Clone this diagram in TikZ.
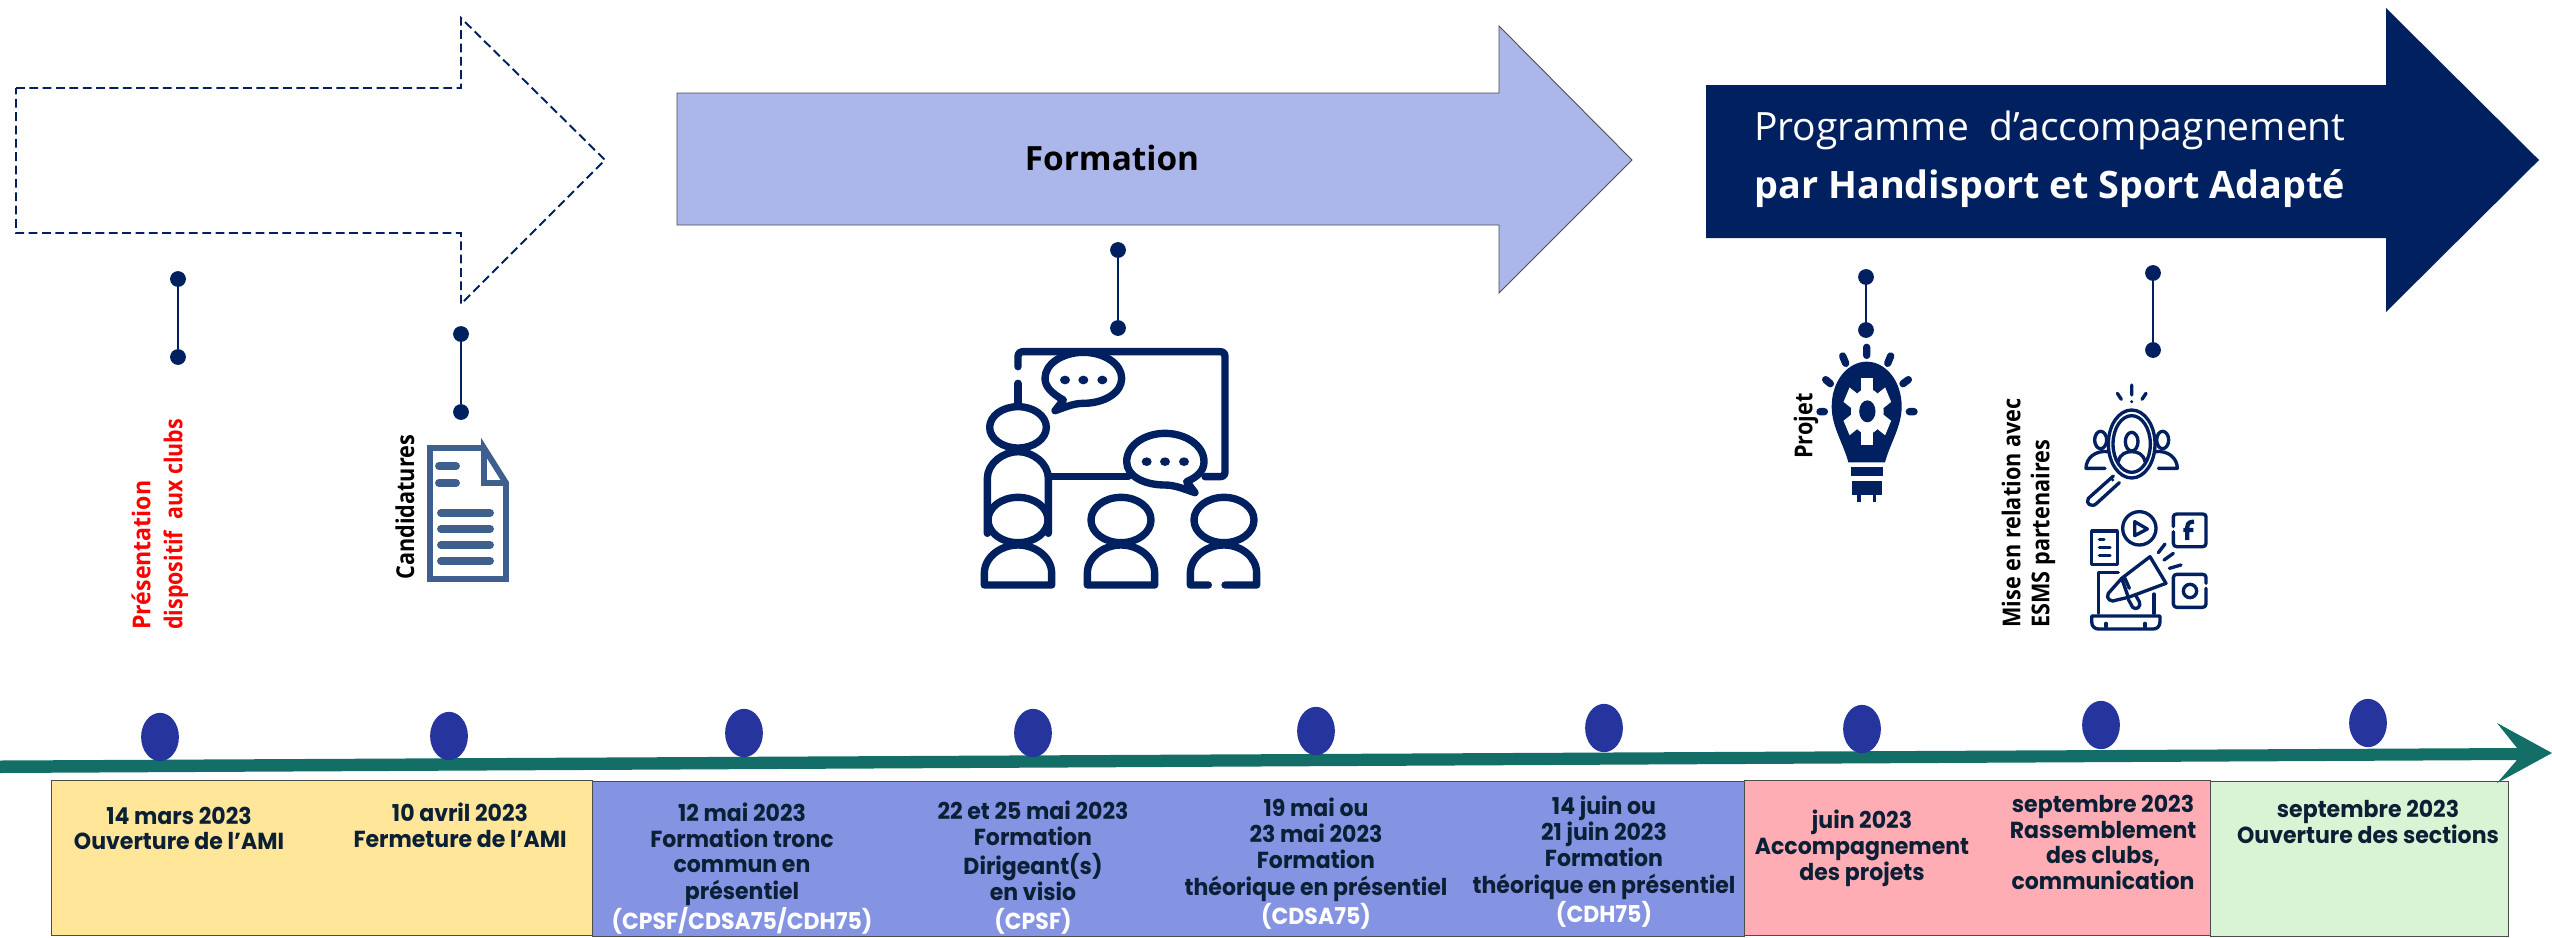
\documentclass[tikz,border=0pt]{standalone}
\usepackage{fontspec}
\usepackage{graphicx}
\setmainfont{Open Sans}
\newfontfamily\mont{Poppins}
\usetikzlibrary{shapes.geometric}
\definecolor{navy}{HTML}{002060}
\definecolor{ylw}{HTML}{FFE699}
\definecolor{blu}{HTML}{8593E3}
\definecolor{pnk}{HTML}{FFADB5}
\definecolor{grn}{HTML}{D9F4D5}
\definecolor{tline}{HTML}{126E66}
\definecolor{dotc}{HTML}{25359D}
\definecolor{darktxt}{HTML}{0B2035}
\definecolor{forma}{HTML}{ABB7EB}
\definecolor{docc}{HTML}{3F5F8F}
\newcommand{\bx}[1]{\scalebox{.95}[1]{\begin{tabular}{@{}c@{}}#1\end{tabular}}}
\newcommand{\wt}[1]{\textcolor{white}{#1}}
\newcommand{\nar}[1]{\scalebox{.88}[1]{#1}}
\tikzset{
  period/.style={draw=black!70,line width=.5pt},
  datelabel/.style={inner sep=0pt,text=darktxt,font=\mont\bfseries\fontsize{13.2}{14.5}\selectfont},
  pindot/.style={circle,fill=navy,minimum size=9pt,inner sep=0pt},
  pinline/.style={navy,line width=1.4pt},
  vlabel/.style={rotate=90,inner sep=0pt,anchor=west,font=\bfseries\fontsize{14}{14}\selectfont},
  ic/.style={navy,line width=4.2pt,line cap=round,line join=round},
  icthin/.style={navy,line width=1.9pt,line cap=round,line join=round},
}
\begin{document}
\begin{tikzpicture}[x=0.02cm,y=-0.02cm]
\useasboundingbox (0,0) rectangle (2552,937);
% top arrows
\draw[navy,dash pattern=on 5pt off 2.6pt,line width=1.1pt] (16,88)--(461,88)--(461,18)--(605,160)--(461,304)--(461,233)--(16,233)--cycle;
\draw[fill=forma,draw=black!70,line width=.5pt] (677,93)--(1499,93)--(1499,26)--(1632,160)--(1499,293)--(1499,225)--(677,225)--cycle;
\fill[navy] (1706,85)--(2386,85)--(2386,8)--(2539,160)--(2386,312)--(2386,238)--(1706,238)--cycle;
\node[inner sep=0pt,font=\bfseries\fontsize{19}{20}\selectfont] (formation) at (1112,158) {Formation};
\node[inner sep=0pt,text=white,font=\fontsize{22.2}{22.2}\selectfont] (prog1) at (2050,130) {Programme\ \ d’accompagnement};
\node[inner sep=0pt,text=white,font=\bfseries\fontsize{21.5}{21.5}\selectfont] (prog2) at (2050,189) {par Handisport et Sport Adapté};
% pins
\foreach \n/\x/\ya/\yb in {a/178/279/357,b/461/334/412,c/1118/250/328,d/1866/277/330,e/2153/273/350}{
  \node[pindot] (\n1) at (\x,\ya) {};
  \node[pindot] (\n2) at (\x,\yb) {};
  \draw[pinline] (\n1)--(\n2);
}
% vertical labels
\node[vlabel,text=red] (pres1) at (141,630) {\scalebox{.94}[1]{Présentation}};
\node[vlabel,text=red] (pres2) at (176,630) {\scalebox{.87}[1]{dispositif\ \ aux clubs}};
\node[vlabel] (cand) at (405,580) {\nar{Candidatures}};
\node[vlabel] (proj) at (1806,459) {\nar{Projet}};
\node[vlabel] (mise1) at (2011,628) {\nar{Mise en relation avec}};
\node[vlabel] (mise2) at (2043,628) {\nar{ESMS partenaires}};
% document icon
\begin{scope}[docc]
\draw[line width=3.4pt,miter limit=10] (484,448)--(430,448)--(430,579)--(506,579)--(506,483)--(484,448)--(484,483)--(506,483);
\foreach \y in {466,483}{\draw[line width=4.5pt,line cap=round] (439,\y)--(456,\y);}
\foreach \y in {513,529,545,561}{\draw[line width=4.5pt,line cap=round] (441,\y)--(490,\y);}
\end{scope}
% classroom icon
\begin{scope}[shift={(940,320)},scale=0.33333]
\draw[ic] (234,140)--(234,110) .. controls (234,100) and (240,95) .. (250,95)--(840,95) .. controls (850,95) and (855,100) .. (855,110)--(855,455) .. controls (855,465) and (850,470) .. (840,470)--(795,470);
\draw[ic] (335,470)--(565,470);
\draw[ic] (234,190)--(234,250);
\draw[ic] (234,322) ellipse (85 and 62);
\draw[ic] (142,640)--(142,475) .. controls (142,430) and (190,395) .. (234,395) .. controls (278,395) and (325,430) .. (325,475)--(325,640);
\foreach \x in {234,543,852}{
  \draw[ic] (\x,600) ellipse (90 and 68);
  }
\foreach \x in {234,543}{
  \draw[ic] (\x-101,795)--(\x-101,760) .. controls (\x-101,710) and (\x-50,675) .. (\x,675) .. controls (\x+50,675) and (\x+101,710) .. (\x+101,760)--(\x+101,795)--cycle;
}
\draw[ic] (805,795)--(751,795)--(751,760) .. controls (751,710) and (802,675) .. (852,675) .. controls (902,675) and (950,710) .. (950,760)--(950,795)--(855,795);
\draw[ic] (345,272)--(370,240) .. controls (335,220) and (315,200) .. (315,175) .. controls (315,130) and (370,97) .. (430,97) .. controls (490,97) and (545,130) .. (545,175) .. controls (545,220) and (490,250) .. (430,250) .. controls (400,250) and (375,262) .. (345,272);
\draw[ic] (765,518)--(740,485) .. controls (775,470) and (792,450) .. (792,425) .. controls (792,375) and (735,340) .. (675,340) .. controls (615,340) and (560,375) .. (560,425) .. controls (560,470) and (615,495) .. (675,495) .. controls (705,495) and (735,508) .. (765,518);
\foreach \x in {375,430,487}{\fill[navy] (\x,180) ellipse (15 and 13);}
\foreach \x in {620,675,732}{\fill[navy] (\x,425) ellipse (15 and 13);}
\end{scope}
% bulb icon
\begin{scope}[shift={(1780,330)},scale=0.33333]
\fill[navy] (205,397) .. controls (190,340) and (155,290) .. (155,230) .. controls (155,150) and (205,95) .. (260,95) .. controls (315,95) and (365,150) .. (365,230) .. controls (365,290) and (330,340) .. (315,397)--cycle;
\fill[navy] (212,412) rectangle (309,437);
\fill[navy] (215,452) rectangle (306,495);
\fill[navy] (232,495) rectangle (243,515);
\fill[navy] (278,495) rectangle (289,515);
\begin{scope}[shift={(262,244)},xscale=0.72]
\fill[white] (0,0) circle (68);
\foreach \a in {0,60,120}{\fill[white,rotate=\a] (-25,-100) rectangle (25,100);}
\fill[navy] (0,0) ellipse (34 and 33);
\end{scope}
\draw[ic] (260,52)--(260,76) (188,78)--(197,100) (332,78)--(323,100) (137,149)--(151,161) (385,149)--(369,161) (120,245)--(133,245) (388,245)--(402,245);
\end{scope}
% partner search icon
\begin{scope}[shift={(1780,330)},scale=0.33333]
\draw[icthin] (1055,165)--(1055,195) (1012,190)--(1024,208) (1098,190)--(1086,208);
\fill[navy] (1055,215) circle (5);
\draw[icthin] (1055,342) ellipse (70 and 102);
\draw[icthin] (1055,342) ellipse (56 and 85);
\draw[icthin] (1055,335) ellipse (19 and 28);
\draw[icthin] (1015,395) .. controls (1020,370) and (1040,365) .. (1055,365) .. controls (1070,365) and (1090,370) .. (1095,395);
\draw[icthin] (962,330) ellipse (18 and 26);
\draw[icthin] (1148,330) ellipse (18 and 26);
\draw[icthin] (985,365) .. controls (945,360) and (918,385) .. (918,415)--(975,415);
\draw[icthin] (1125,365) .. controls (1165,360) and (1192,385) .. (1192,415)--(1135,415);
\draw[icthin] (1000,438)--(925,505) .. controls (915,520) and (935,535) .. (950,520)--(1018,458);
\fill[navy] (998,450) circle (5);
% social / megaphone icon
\draw[icthin] (935,603) rectangle (1012,703);
\draw[icthin] (958,628)--(972,628) (958,653)--(990,653) (958,677)--(990,677);
\draw[icthin] (1078,595) circle (50);
\draw[icthin] (1064,575)--(1102,597)--(1064,617)--cycle;
\draw[icthin] (1180,590)--(1180,560) .. controls (1180,555) and (1185,552) .. (1190,552)--(1268,552) .. controls (1274,552) and (1278,555) .. (1278,560)--(1278,640) .. controls (1278,646) and (1274,650) .. (1268,650)--(1190,650) .. controls (1185,650) and (1180,646) .. (1180,640)--(1180,605);
\draw[navy,line width=2.4pt] (1222,630)--(1222,590) .. controls (1222,578) and (1232,575) .. (1242,575) (1210,600)--(1240,600);
\draw[icthin] (1278,760)--(1278,742) .. controls (1278,737) and (1274,733) .. (1268,733)--(1190,733) .. controls (1185,733) and (1180,737) .. (1180,742)--(1180,822) .. controls (1180,828) and (1185,832) .. (1190,832)--(1268,832) .. controls (1274,832) and (1278,828) .. (1278,822)--(1278,775);
\draw[icthin] (1230,783) circle (20);
\draw[icthin] (955,850)--(955,728)--(1015,728) (1122,792)--(1122,850);
\draw[icthin] (935,858)--(1140,858)--(1140,875) .. controls (1140,890) and (1130,897) .. (1120,897)--(955,897) .. controls (945,897) and (935,890) .. (935,875)--cycle;
\draw[icthin] (978,880)--(978,890) (1095,880)--(1095,890);
\draw[icthin] (1025,745)--(1110,680)--(1125,705)--(1158,760)--(1045,802)--cycle;
\draw[icthin] (1025,745)--(985,790) .. controls (975,805) and (995,820) .. (1010,810)--(1045,802);
\draw[icthin] (1035,745)--(1048,775);
\draw[icthin] (1045,808)--(1058,832) .. controls (1068,842) and (1085,830) .. (1078,815)--(1066,795);
\draw[icthin] (1135,668)--(1155,642) (1152,690)--(1180,670) (1168,715)--(1203,705);
\end{scope}
% period boxes
\draw[period,fill=ylw] (51,780) rectangle (592,935);
\draw[period,fill=blu] (592,781) rectangle (1744,936);
\draw[period,fill=pnk] (1744,780) rectangle (2210,935);
\draw[period,fill=grn] (2210,781) rectangle (2508,936);
% timeline
\fill[tline] (0,760.5)--(2517,748)--(2497,723)--(2552,753)--(2497,783)--(2517,760)--(0,773)--cycle;
% ticks
\foreach \n/\x/\y in {1/160/737,2/449/736,3/744/733,4/1033/733,5/1316/731,6/1604/728,7/1862/729,8/2101/725,9/2368/723}{
  \node[ellipse,fill=dotc,minimum width=21.5pt,minimum height=27.5pt,inner sep=0pt] (t\n) at (\x,\y) {};
}
% date labels
\node[datelabel] (d1) at (179,832) {\bx{14 mars 2023\\Ouverture de l’AMI}};
\node[datelabel] (d2) at (460,829) {\bx{10 avril 2023\\Fermeture de l’AMI}};
\node[datelabel] (d3) at (742,870) {\bx{12 mai 2023\\Formation tronc\\commun en\\présentiel\\\wt{(CPSF/CDSA75/CDH75)}}};
\node[datelabel] (d4) at (1033,869) {\bx{22 et 25 mai 2023\\Formation\\Dirigeant(s)\\en visio\\\wt{(CPSF)}}};
\node[datelabel] (d5) at (1316,865) {\bx{19 mai ou\\23 mai 2023\\Formation\\théorique en présentiel\\\wt{(CDSA75)}}};
\node[datelabel] (d6) at (1604,863) {\bx{14 juin ou\\21 juin 2023\\Formation\\théorique en présentiel\\\wt{(CDH75)}}};
\node[datelabel] (d7) at (1862,849) {\bx{juin 2023\\Accompagnement\\des projets}};
\node[datelabel] (d8) at (2103,846) {\bx{septembre 2023\\Rassemblement\\des clubs,\\communication}};
\node[datelabel] (d9) at (2368,825) {\bx{septembre 2023\\Ouverture des sections}};
\end{tikzpicture}
\end{document}
